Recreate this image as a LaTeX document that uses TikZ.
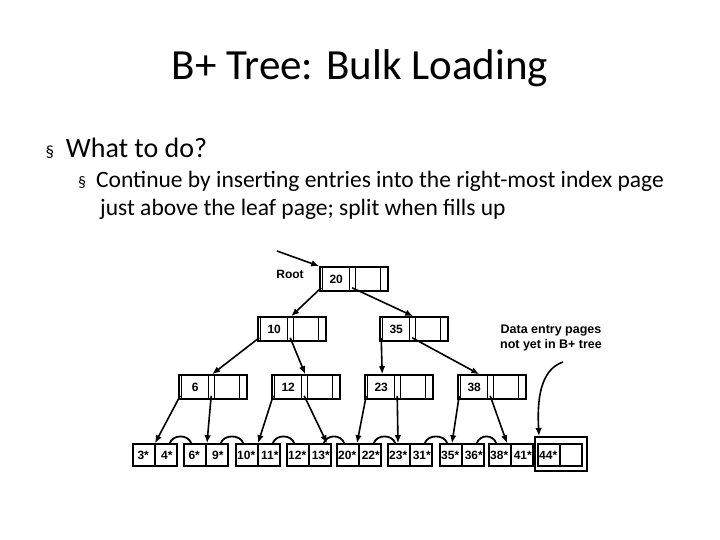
\documentclass[tikz,border=0pt]{standalone}
\usepackage{fontspec}
\setmainfont{Carlito}
\newfontfamily\diag{Liberation Sans}
\usetikzlibrary{arrows.meta,calc}
\tikzset{
 inbox/.style={draw,line width=1.6pt,minimum width=68pt,minimum height=24pt,inner sep=0pt},
 lfbox/.style={draw,line width=1.6pt,minimum width=44pt,minimum height=22pt,inner sep=0pt},
 lbl/.style={font=\diag\bfseries\fontsize{12}{12}\selectfont,inner sep=0pt},
 ptr/.style={line width=1.6pt,-{Latex[length=8pt,width=6.5pt]}},
 bump/.style={line width=1.8pt}
}
\newcommand\inode[4]{%
 \node[inbox] (#1) at (#2+34,#3+12) {};
 \draw[line width=1.3pt] ($(#1.north west)+(3.5,0)$) -- ($(#1.south west)+(3.5,0)$)
   ($(#1.north west)+(30,0)$) -- ($(#1.south west)+(30,0)$)
   ($(#1.north west)+(36,0)$) -- ($(#1.south west)+(36,0)$)
   ($(#1.north west)+(61,0)$) -- ($(#1.south west)+(61,0)$);
 \node[lbl] (#1-k) at ($(#1.west)+(17,0)$) {#4};
 \coordinate (#1-p0) at ($(#1.south west)+(2,-4)$);
 \coordinate (#1-p1) at ($(#1.south west)+(33,-4)$);
 \coordinate (#1-t) at ($(#1.north west)+(34,0)$);}
\newcommand\leaf[4]{%
 \node[lfbox] (#1) at (#2+22,455) {};
 \draw[line width=1.3pt] (#1.north) -- (#1.south);
 \node[lbl] (#1-a) at ($(#1.west)+(11,0)$) {#3};
 \node[lbl] (#1-b) at ($(#1.east)+(-11,0)$) {#4};}
\begin{document}
\begin{tikzpicture}[x=1pt,y=-1pt]
\useasboundingbox (0,0) rectangle (720,540);
\node (title) at (360,68) {\fontsize{43}{43}\selectfont B+ Tree: Bulk Loading};
\node[anchor=west] (b1) at (42,148) {\fontsize{17}{17}\selectfont\S\hspace{12pt}\fontsize{28}{28}\selectfont What to do?};
\node[anchor=north west,align=left,inner sep=0pt,font=\fontsize{23.5}{28}\selectfont] (b2) at (78,171) {{\fontsize{16}{16}\selectfont\S}\hspace{10pt}Continue by inserting entries into the right-most index page\\\hspace{22pt}just above the leaf page; split when fills up};

\inode{r}{320}{267}{20}
\inode{n10}{258}{317}{10}
\inode{n35}{380}{317}{35}
\inode{n6}{179}{375}{6}
\inode{n12}{272}{375}{12}
\inode{n23}{365}{375}{23}
\inode{n38}{458}{375}{38}

\leaf{l1}{133}{3*}{4*}
\leaf{l2}{184}{6*}{9*}
\leaf{l3}{236}{10*}{11*}
\leaf{l4}{287}{12*}{13*}
\leaf{l5}{337}{20*}{22*}
\leaf{l6}{388}{23*}{31*}
\leaf{l7}{440}{35*}{36*}
\leaf{l8}{489}{38*}{41*}
\node[lfbox] (l9) at (560,455) {};
\draw[line width=1.3pt] (l9.north) -- (l9.south);
\node[lbl] (l9-a) at ($(l9.west)+(11,0)$) {44*};
\node[draw,line width=2pt,minimum width=52pt,minimum height=34pt] (l9o) at (561,454) {};

\foreach \a/\b in {l1/l2,l2/l3,l3/l4,l4/l5,l5/l6,l6/l7,l7/l8}
 \draw[bump] ($(\a.north east)+(-8,0)$) .. controls +(3,-9) and +(-3,-9) .. ($(\b.north west)+(8,0)$);

\node[lbl] (rootlbl) at (290,274) {Root};
\coordinate (rin) at (277,251);
\draw[ptr] (rin) -- (r.north west);

\draw[ptr] (r-p0) -- (n10-t);
\draw[ptr] (r-p1) -- (n35-t);
\draw[ptr] (n10-p0) -- (n6-t);
\draw[ptr] (n10-p1) -- (n12-t);
\draw[ptr] (n35-p0) -- ($(n23.north west)+(18,0)$);
\draw[ptr] (n35-p1) -- ($(n38.north west)+(22,0)$);
\draw[ptr] (n6-p0) -- (l1.north);
\draw[ptr] (n6-p1) -- ($(l2.north)+(1,0)$);
\draw[ptr] (n12-p0) -- (l3.north);
\draw[ptr] (n12-p1) -- ($(l4.north)+(18,0)$);
\draw[ptr] (n23-p0) -- ($(l5.north)+(-2,0)$);
\draw[ptr] (n23-p1) -- ($(l6.north)+(-12,0)$);
\draw[ptr] (n38-p0) -- ($(l7.north)+(-10,0)$);
\draw[ptr] (n38-p1) -- ($(l8.north)+(-4,0)$);

\node[lbl,align=center,font=\diag\bfseries\fontsize{12.5}{15}\selectfont] (note) at (551,338) {Data entry pages\\not yet in B+ tree};
\draw[ptr] (563,362) .. controls (540,370) and (537,400) .. ($(l9o.north west)+(5,0)$);
\end{tikzpicture}
\end{document}
